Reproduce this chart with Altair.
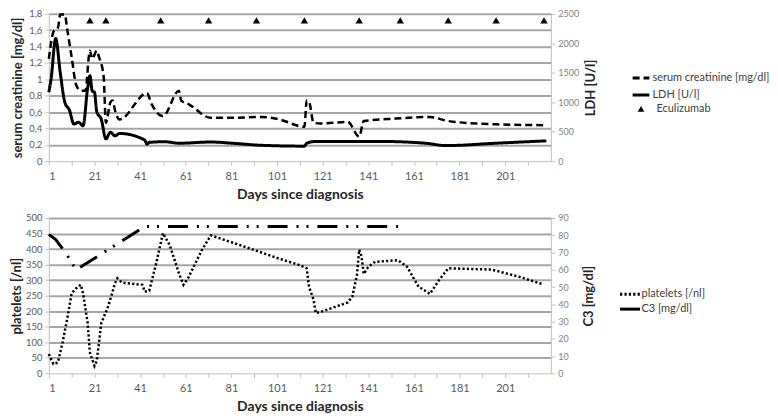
import altair as alt
import pandas as pd

# ---------------- data ----------------
creat_day = [1, 2, 3, 5, 6, 8, 9, 11, 13, 15, 17, 19, 20, 22, 23, 25, 26, 28, 29, 30, 32,
             44, 46, 51, 58, 59, 62, 72, 80, 94, 102, 113, 114, 115, 117, 120, 132, 137,
             139, 153, 168, 176, 197, 218]
creat_val = [1.25, 1.45, 1.58, 1.63, 1.79, 1.79, 1.62, 1.27, 0.93, 0.86, 0.86, 1.35, 1.25,
             1.35, 1.27, 1.04, 0.47, 0.72, 0.74, 0.62, 0.51, 0.83, 0.70, 0.55, 0.86, 0.74,
             0.70, 0.53, 0.53, 0.54, 0.51, 0.42, 0.74, 0.73, 0.47, 0.46, 0.48, 0.30, 0.49,
             0.52, 0.54, 0.49, 0.45, 0.44]

ldh_day = [1, 2, 4, 6, 8, 10, 12, 14, 16, 18, 19, 20, 21, 22, 24, 26, 28, 30, 32, 43, 44,
           45, 52, 58, 72, 83, 94, 113, 114, 118, 146, 166, 175, 197, 219]
ldh_val = [1170, 1400, 2080, 1500, 1000, 866, 630, 660, 600, 1240, 1450, 1190, 1170, 840,
           710, 380, 490, 430, 470, 360, 290, 320, 330, 305, 325, 300, 270, 255, 305, 335,
           335, 305, 265, 305, 345]

ecu_day = [19, 26, 50, 71, 92, 113, 137, 155, 176, 197, 218]
ecu_level = [1.72] * len(ecu_day)

plt_day = [1, 2, 3, 4, 5, 7, 9, 11, 13, 15, 16, 18, 19, 21, 22, 24, 27, 30, 31, 33, 42, 43,
           45, 48, 51, 54, 58, 60, 62, 68, 72, 83, 102, 111, 114, 115, 117, 118, 121, 132,
           134, 136, 137, 138, 139, 141, 144, 154, 158, 163, 168, 172, 176, 195, 207, 217]
plt_val = [62, 45, 30, 32, 36, 99, 173, 258, 274, 285, 258, 162, 67, 24, 40, 162, 215, 290,
           306, 292, 285, 263, 266, 353, 451, 412, 322, 285, 306, 396, 444, 417, 369, 348,
           338, 279, 237, 194, 200, 228, 247, 316, 398, 377, 320, 343, 359, 364, 343, 279,
           256, 300, 338, 334, 311, 288]

c3_day = [1, 4, 6, 8, 13, 43, 155]
c3_val = [80.5, 77.5, 74, 70.5, 60, 85, 85]

top_series = ["serum creatinine [mg/dl]", "LDH [U/l]"]
bot_series = ["platelets [/nl]", "C3 [mg/dl]"]
ecu_label = "Eculizumab"

x_tick_values = list(range(1, 212, 10))
creat_ticks = [0, 0.2, 0.4, 0.6, 0.8, 1.0, 1.2, 1.4, 1.6, 1.8]
ldh_ticks = [0, 500, 1000, 1500, 2000, 2500]
plt_ticks = [0, 50, 100, 150, 200, 250, 300, 350, 400, 450, 500]
c3_ticks = [0, 10, 20, 30, 40, 50, 60, 70, 80, 90]

# ---------------- tables ----------------
creat_df = pd.DataFrame({"day": creat_day, "v": creat_val, "s": top_series[0]})
ldh_df = pd.DataFrame({"day": ldh_day, "v": ldh_val, "s": top_series[1]})
ecu_df = pd.DataFrame({"day": ecu_day, "v": ecu_level, "k": ecu_label})
plt_df = pd.DataFrame({"day": plt_day, "v": plt_val, "s": bot_series[0]})
c3_df = pd.DataFrame({"day": c3_day, "v": c3_val, "s": bot_series[1]})

# ---------------- styles ----------------
FONT = "Lato"
GRID = "#a6a6a6"
AXC = "#bfbfbf"
LAB = "#595959"
TIT = "#262626"
W = 504
H_TOP, H_BOT = 148, 156

xscale = alt.Scale(domain=[1, 221], nice=False, zero=False)


def x_enc():
    return alt.X(
        "day:Q", scale=xscale,
        axis=alt.Axis(values=x_tick_values,
                      labelExpr="(datum.value - 1) % 20 == 0 ? datum.label : ''",
                      grid=False, domainColor=AXC, tickColor=AXC, tickSize=4,
                      labelFontSize=11, labelColor=LAB, labelPadding=5,
                      title="Days since diagnosis", titleFontSize=14,
                      titleFontWeight="bold", titleColor=TIT, titlePadding=6))


def left_axis(values, title, pad, comma=False):
    kw = {}
    if comma:
        kw = dict(format=".1~f", labelExpr="replace(datum.label, '.', ',')")
    return alt.Axis(values=values, grid=True, gridColor=GRID, gridWidth=2,
                    gridOpacity={"condition": {"test": "datum.value === 0", "value": 0},
                                 "value": 1},
                    domainColor=AXC, tickColor=AXC, tickSize=4, labelFontSize=9.5,
                    labelColor=LAB, labelPadding=3, title=title, titleFontSize=13,
                    titleFontWeight="bold", titleColor=TIT, titlePadding=pad, **kw)


def right_axis(values, title, pad):
    return alt.Axis(orient="right", values=values, format="d", grid=False,
                    domainColor=AXC, tickColor=AXC, tickSize=4, labelFontSize=9,
                    labelColor="#7f7f7f", labelPadding=3, title=title, titleFontSize=13,
                    titleFontWeight="bold", titleColor=TIT, titleAngle=270,
                    titleBaseline="top", titlePadding=pad)


def dash_legend(x, y, path, row_pad, offset):
    return alt.Legend(title=None, orient="none", legendX=x, legendY=y,
                      symbolType=path, symbolSize=196, symbolStrokeColor="black",
                      symbolStrokeWidth=3, labelFontSize=11, labelColor="#404040",
                      labelFont=FONT, labelOffset=offset, rowPadding=row_pad, padding=0)


# ---------------- top panel ----------------
top_dash = alt.StrokeDash("s:N",
                          scale=alt.Scale(domain=top_series, range=[[7, 4], [1, 0]]),
                          legend=dash_legend(586, 56, "M-1.2,0H1.2", 2, 3))

creat_line = alt.Chart(creat_df).mark_line(color="black", strokeWidth=2.5,
                                           interpolate="monotone").encode(
    x=x_enc(),
    y=alt.Y("v:Q", scale=alt.Scale(domain=[0, 1.8], nice=False),
            axis=left_axis(creat_ticks, "serum creatinine [mg/dl]", 4, comma=True)),
    strokeDash=top_dash,
)

ecu_pts = alt.Chart(ecu_df).mark_point(filled=True, color="black", size=55,
                                       opacity=1).encode(
    x=x_enc(),
    y=alt.Y("v:Q", scale=alt.Scale(domain=[0, 1.8], nice=False), axis=None),
    shape=alt.Shape("k:N", scale=alt.Scale(domain=[ecu_label], range=["triangle-up"]),
                    legend=alt.Legend(title=None, orient="none", legendX=589, legendY=90,
                                      symbolSize=45, symbolFillColor="black",
                                      symbolStrokeColor="black", labelFontSize=11,
                                      labelColor="#404040", labelFont=FONT,
                                      labelOffset=10, padding=0)),
)

ldh_line = alt.Chart(ldh_df).mark_line(color="black", strokeWidth=3,
                                       interpolate="monotone").encode(
    x=x_enc(),
    y=alt.Y("v:Q", scale=alt.Scale(domain=[0, 2500], nice=False),
            axis=right_axis(ldh_ticks, "LDH [U/l]", 6)),
    strokeDash=top_dash,
)

top = alt.layer(creat_line, ecu_pts, ldh_line).resolve_scale(y="independent").properties(
    width=W, height=H_TOP)

# ---------------- bottom panel ----------------
bot_dash = alt.StrokeDash("s:N",
                          scale=alt.Scale(domain=bot_series,
                                          range=[[2.2, 2.2], [20, 9, 2, 8, 2, 9]]),
                          legend=dash_legend(575, 68, "M-1.43,0H1.43", 0, 3))

plt_line = alt.Chart(plt_df).mark_line(color="black", strokeWidth=2.5).encode(
    x=x_enc(),
    y=alt.Y("v:Q", scale=alt.Scale(domain=[0, 500], nice=False),
            axis=left_axis(plt_ticks, "platelets [/nl]", 2)),
    strokeDash=bot_dash,
)

c3_line = alt.Chart(c3_df).mark_line(color="black", strokeWidth=3).encode(
    x=x_enc(),
    y=alt.Y("v:Q", scale=alt.Scale(domain=[0, 90], nice=False),
            axis=right_axis(c3_ticks, "C3 [mg/dl]", 14)),
    strokeDash=bot_dash,
)

bottom = alt.layer(plt_line, c3_line).resolve_scale(y="independent").properties(
    width=W, height=H_BOT)

chart = alt.vconcat(top, bottom, spacing=12).resolve_scale(
    strokeDash="independent", shape="independent").resolve_legend(
    strokeDash="independent", shape="independent").properties(
    padding={"left": 2, "top": 0, "right": 0, "bottom": 0}).configure(
    font=FONT).configure_view(stroke=None)

chart.save("out.html", embed_options={"renderer": "svg", "actions": False})
